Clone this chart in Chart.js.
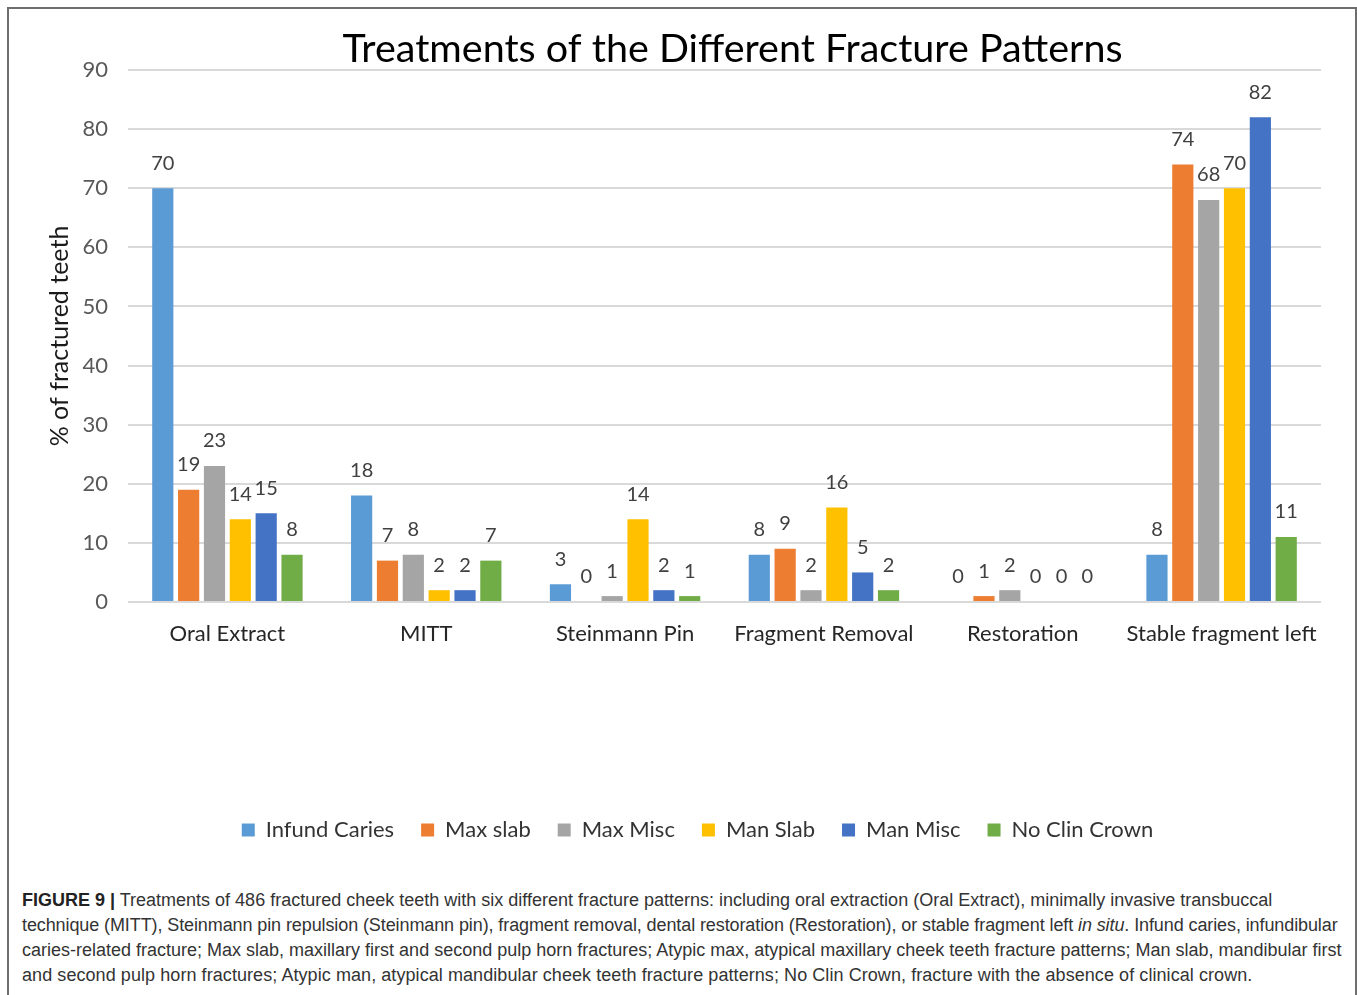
<!DOCTYPE html>
<html>
<head>
<meta charset="utf-8">
<script src="https://cdn.jsdelivr.net/npm/chart.js@4.4.1/dist/chart.umd.min.js"></script>
<style>
  body { margin: 0; background: #fff; }
  #frame {
    position: absolute; left: 7px; top: 7px; width: 1350px; height: 1000px;
    box-sizing: border-box; border: 2px solid #6e6e6e; background: #fff;
  }
  #chartBox { position: absolute; left: 0; top: 0; width: 1346px; height: 860px; }
  #caption {
    position: absolute; left: 13px; top: 879px; white-space: nowrap;
    font-family: "Liberation Sans", Arial, sans-serif; font-size: 18px;
    line-height: 25px; color: #333;
  }
  #caption b { color: #222; }
</style>
</head>
<body>
<div id="frame">
  <div id="chartBox"><canvas id="chart"></canvas></div>
  <div id="caption">
    <b>FIGURE 9 |</b> Treatments of 486 fractured cheek teeth with six different fracture patterns: including oral extraction (Oral Extract), minimally invasive transbuccal<br>
    <span style="letter-spacing:-0.1px">technique (MITT), Steinmann pin repulsion (Steinmann pin), fragment removal, dental restoration (Restoration), or stable fragment left <i>in situ</i>. Infund caries, infundibular</span><br>
    caries-related fracture; Max slab, maxillary first and second pulp horn fractures; Atypic max, atypical maxillary cheek teeth fracture patterns; Man slab, mandibular first<br>
    <span style="letter-spacing:0.07px">and second pulp horn fractures; Atypic man, atypical mandibular cheek teeth fracture patterns; No Clin Crown, fracture with the absence of clinical crown.</span>
  </div>
</div>
<script>
const categories = ["Oral Extract", "MITT", "Steinmann Pin", "Fragment Removal", "Restoration", "Stable fragment left"];
const seriesNames = ["Infund Caries", "Max slab", "Max Misc", "Man Slab", "Man Misc", "No Clin Crown"];
const infundCaries = [70, 18, 3, 8, 0, 8];
const maxSlab = [19, 7, 0, 9, 1, 74];
const maxMisc = [23, 8, 1, 2, 2, 68];
const manSlab = [14, 2, 14, 16, 0, 70];
const manMisc = [15, 2, 2, 5, 0, 82];
const noClinCrown = [8, 7, 1, 2, 0, 11];
const colors = ["#5B9BD5", "#ED7D31", "#A5A5A5", "#FFC000", "#4472C4", "#70AD47"];

const allSeries = [infundCaries, maxSlab, maxMisc, manSlab, manMisc, noClinCrown];

// numbers above each bar
const valueLabels = {
  id: "valueLabels",
  afterDatasetsDraw(chart) {
    const ctx = chart.ctx;
    ctx.save();
    ctx.font = "20px Lato";
    ctx.fillStyle = "#404040";
    ctx.textAlign = "center";
    ctx.textBaseline = "middle";
    chart.data.datasets.forEach((ds, i) => {
      chart.getDatasetMeta(i).data.forEach((bar, j) => {
        ctx.fillText(String(ds.data[j]), bar.x, bar.y - 25);
      });
    });
    ctx.restore();
  }
};

// legend sits a bit left and title a bit right of the plot centre in the original
const boxNudge = {
  id: "boxNudge",
  afterLayout(chart) {
    chart.legend.left -= 27;
    chart.legend.right -= 27;
    chart.titleBlock.left += 8;
    chart.titleBlock.right += 8;
  }
};

new Chart(document.getElementById("chart"), {
  type: "bar",
  data: {
    labels: categories,
    datasets: allSeries.map((vals, i) => ({
      label: seriesNames[i],
      data: vals,
      backgroundColor: colors[i],
      borderWidth: 0,
      categoryPercentage: 0.78,
      barPercentage: 0.82
    }))
  },
  options: {
    responsive: true,
    maintainAspectRatio: false,
    animation: false,
    layout: { padding: { left: 0, right: 34, top: 0, bottom: 18 } },
    plugins: {
      title: {
        display: true,
        fullSize: false,
        text: "Treatments of the Different Fracture Patterns",
        color: "#000",
        font: { family: "Lato", size: 39.5, weight: "normal", lineHeight: 1 },
        padding: { top: 21, bottom: 0.5 }
      },
      legend: {
        position: "bottom",
        fullSize: false,
        labels: {
          boxWidth: 13,
          boxHeight: 13,
          padding: 27,
          color: "#333",
          font: { family: "Lato", size: 22 }
        }
      },
      tooltip: { enabled: false }
    },
    scales: {
      x: {
        grid: { display: false, drawTicks: false },
        border: { display: false },
        ticks: { color: "#262626", padding: 19, font: { family: "Lato", size: 22 } },
        afterFit(scale) { scale.height = 190; }
      },
      y: {
        min: 0,
        max: 90,
        ticks: { stepSize: 10, color: "#595959", padding: 20, font: { family: "Lato", size: 22 } },
        grid: { color: "#D9D9D9", lineWidth: 2, drawTicks: false },
        border: { display: false },
        title: {
          display: true,
          text: "% of fractured teeth",
          color: "#1a1a1a",
          font: { family: "Lato", size: 25 },
          padding: { top: 36, bottom: 0 }
        },
        afterFit(scale) { scale.width = 119; }
      }
    }
  },
  plugins: [valueLabels, boxNudge]
});
</script>
</body>
</html>
